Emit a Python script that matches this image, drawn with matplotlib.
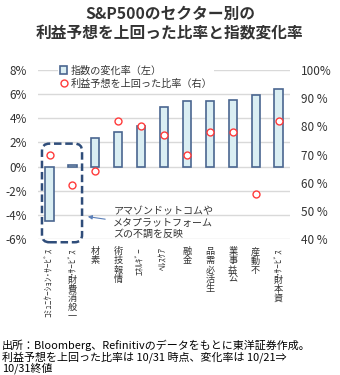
import matplotlib
matplotlib.use('Agg')
import matplotlib.pyplot as plt
from matplotlib.patches import FancyBboxPatch, Patch
from matplotlib.lines import Line2D

plt.rcParams['font.family'] = ['Noto Sans CJK JP', 'DejaVu Sans']

# データ
sectors = ['ｺﾐｭﾆｹｰｼｮﾝ･ｻｰﾋﾞｽ', '一般消費財･ｻｰﾋﾞｽ', '素材', '情報技術', 'ｴﾈﾙｷﾞｰ',
           'ﾍﾙｽｹｱ', '金融', '生活必需品', '公益事業', '不動産', '資本財･ｻｰﾋﾞｽ']
change = [-4.5, 0.1, 2.4, 2.9, 3.4, 4.9, 5.4, 5.4, 5.5, 5.9, 6.4]   # 指数の変化率（左, %）
beat = [70, 59, 64, 82, 80, 77, 70, 78, 78, 56, 82]                  # 利益予想を上回った比率（右, %）
left_ticks = [-6, -4, -2, 0, 2, 4, 6, 8]
right_ticks = [40, 50, 60, 70, 80, 90, 100]

bar_fill = '#daeef3'
bar_edge = '#4a6690'
dot_col = '#ff3b3b'
txt_col = '#333333'


def vlabel(ax, i, text, fs=6.6):
    # 下から上へ読む縦書き：全角は正立、半角は回転
    runs = []
    for ch in text:
        half = ord(ch) < 0x3000 or 0xFF61 <= ord(ch) <= 0xFF9F
        if runs and runs[-1][0] == half:
            runs[-1][1] += ch
        else:
            runs.append([half, ch])
    off = 6
    for half, s in reversed(runs):
        if half:
            ax.annotate(s, xy=(i, 0), xycoords=('data', 'axes fraction'),
                        xytext=(0, -off), textcoords='offset points',
                        rotation=90, ha='center', va='top', fontsize=fs, color=txt_col)
            off += len(s) * fs * 0.52
        else:
            for ch in reversed(s):
                ax.annotate(ch, xy=(i, 0), xycoords=('data', 'axes fraction'),
                            xytext=(0, -off), textcoords='offset points',
                            ha='center', va='top', fontsize=fs, color=txt_col)
                off += fs * 1.0


fig = plt.figure(figsize=(3.4, 3.75), dpi=100)
ax = fig.add_axes([0.112, 0.363, 0.741, 0.45])
ax2 = ax.twinx()

x = list(range(len(sectors)))
ax.bar(x, change, width=0.36, color=bar_fill, edgecolor=bar_edge, linewidth=1.2, zorder=3)
ax2.plot(x, beat, 'o', ms=5, mfc='white', mec=dot_col, mew=1.0, zorder=4)

ax.set_xlim(-0.5, len(sectors) - 0.5)
ax.set_ylim(-6, 8)
ax2.set_ylim(40, 100)
ax.set_yticks(left_ticks)
ax.set_yticklabels([f'{v}%' for v in left_ticks])
ax2.set_yticks(right_ticks)
ax2.set_yticklabels([f'{v}%' if v == 100 else f'{v} %' for v in right_ticks])
ax.set_xticks([])
ax.grid(axis='y', color='#d9d9d9', lw=1.0, zorder=0)
ax.set_axisbelow(True)
for a in (ax, ax2):
    for s in a.spines.values():
        s.set_visible(False)
ax.tick_params(axis='y', length=0, pad=8, labelsize=8.5, labelcolor=txt_col)
ax2.tick_params(axis='y', length=0, pad=8, labelsize=8.5, labelcolor=txt_col)

for i, name in enumerate(sectors):
    vlabel(ax, i, name)

# 注記：破線の囲みと矢印
box = FancyBboxPatch((-0.33, -6.28), 1.75, 8.18,
                     boxstyle='round,pad=0,rounding_size=0.32', mutation_aspect=1.9,
                     transform=ax.transData, fill=False, ls=(0, (3, 1.5)), lw=1.8,
                     ec='#2f4d7a', clip_on=False, zorder=5)
ax2.add_patch(box)
ax.annotate('', xy=(1.55, -4.12), xytext=(2.55, -4.4),
            arrowprops=dict(arrowstyle='-|>', color='#5b7fb8', lw=0.8, mutation_scale=6),
            zorder=6)
ax.text(2.78, -3.3, 'アマゾンドットコムや\nメタプラットフォーム\nズの不調を反映',
        ha='left', va='top', fontsize=7.2, linespacing=1.15, color=txt_col, zorder=6)

handles = [Patch(facecolor=bar_fill, edgecolor=bar_edge, linewidth=1.2),
           Line2D([], [], marker='o', ls='none', ms=5, mfc='white', mec=dot_col, mew=1.0)]
leg = ax2.legend(handles, ['指数の変化率（左）', '利益予想を上回った比率（右）'],
                 loc='upper left', bbox_to_anchor=(0.06, 1.07), fontsize=7.3,
                 frameon=True, framealpha=1, edgecolor='none', facecolor='white',
                 handlelength=0.7, handleheight=0.9, handletextpad=0.3,
                 labelspacing=0.35, borderpad=0.2, labelcolor=txt_col)

fig.text(0.5, 0.985, 'S&P500のセクター別の\n利益予想を上回った比率と指数変化率',
         ha='center', va='top', fontsize=11.3, fontweight='bold', color=txt_col,
         linespacing=1.3)
fig.text(0.006, 0.003, '出所：Bloomberg、Refinitivのデータをもとに東洋証券作成。\n'
         '利益予想を上回った比率は 10/31 時点、変化率は 10/21⇒\n10/31終値',
         ha='left', va='bottom', fontsize=7.9, color='black', linespacing=0.95)

fig.savefig('out.png', dpi=100)
